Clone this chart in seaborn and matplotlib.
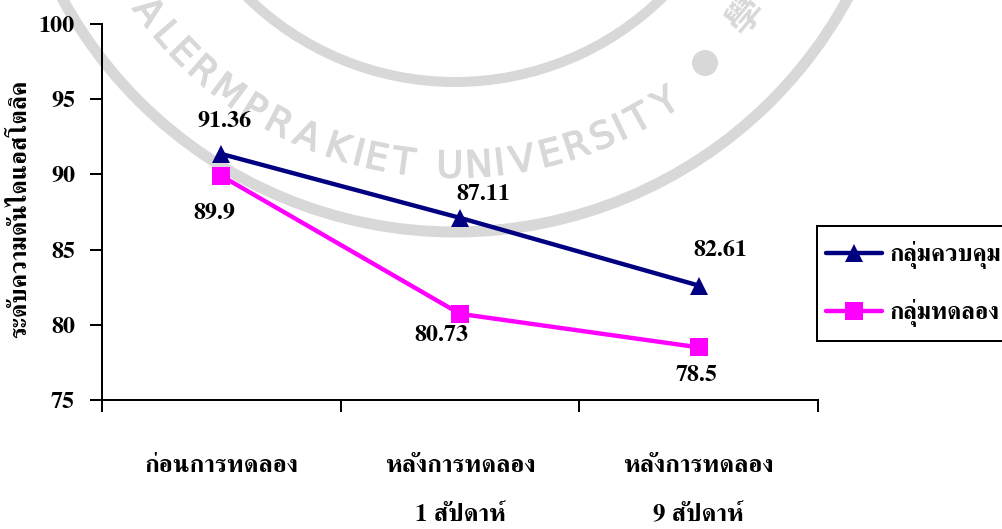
import numpy as np
import pandas as pd
import seaborn as sns
import matplotlib
matplotlib.use("Agg")
import matplotlib.pyplot as plt
import matplotlib.patheffects as pe
from matplotlib.font_manager import FontProperties
from matplotlib.patches import Circle, Rectangle
from matplotlib.textpath import TextPath

phases = ["ก่อนการทดลอง", "หลังการทดลอง\n1 สัปดาห์", "หลังการทดลอง\n9 สัปดาห์"]
control = [91.36, 87.11, 82.61]
treatment = [89.9, 80.73, 78.5]
group_names = ["กลุ่มควบคุม", "กลุ่มทดลอง"]
y_title = "ระดับความดันไดแอสโตลิค"
seal_text = "ALERMPRAKIET UNIVERSITY"

sns.set_theme(style="white")
plt.rcParams["font.family"] = ["FreeSerif", "Liberation Serif", "DejaVu Sans"]
plt.rcParams["font.weight"] = "bold"

W, H = 1003, 529
px = 72 / 100
fig = plt.figure(figsize=(W / 100, H / 100), dpi=100, facecolor="white")

# University seal printed faintly behind the plot
seal = fig.add_axes([0, 0, 1, 1], zorder=0)
seal.set_xlim(0, W)
seal.set_ylim(H, 0)
seal.axis("off")
gray = "#d8d8d8"
cx, cy = 455, -215
seal.add_patch(Circle((cx, cy), 447, fill=False, ec=gray, lw=11 * px))
seal.add_patch(Circle((cx, cy), 297, fill=False, ec=gray, lw=10 * px))
seal.add_patch(Circle((705, 63), 13, fc=gray, ec="none"))

seal_font = FontProperties(family="DejaVu Sans", size=37)
widths = [TextPath((0, 0), c, prop=seal_font).get_extents().width if c != " " else 12
          for c in seal_text]
start, end = np.radians(-53.5), np.radians(33.6)
radius = 382
span = radius * (end - start)
gap = (span - sum(widths) + (widths[0] + widths[-1]) / 2) / (len(seal_text) - 1)
pos = 0.0
for i, (c, w) in enumerate(zip(seal_text, widths)):
    if i:
        pos += (widths[i - 1] + w) / 2 + gap
    t = start + pos / radius
    seal.text(cx + radius * np.sin(t), cy + radius * np.cos(t), c, color=gray,
              fontsize=37 * px, family="DejaVu Sans", weight="normal",
              rotation=np.degrees(t), rotation_mode="anchor", ha="center", va="center",
              path_effects=[pe.withStroke(linewidth=1.0, foreground=gray)])
seal.text(746, 16, "學", color=gray, fontsize=36 * px, family="Noto Sans CJK TC",
          weight="bold", rotation=50, ha="center", va="center")

# Main plot
ax = fig.add_axes([102 / W, (H - 400) / H, 716 / W, 376 / H], zorder=1)
ax.patch.set_visible(False)

df = pd.DataFrame({
    "phase": phases * 2,
    "score": control + treatment,
    "group": [group_names[0]] * 3 + [group_names[1]] * 3,
})
sns.lineplot(
    data=df, x="phase", y="score", hue="group", style="group", sort=False, ax=ax,
    palette={group_names[0]: "#000080", group_names[1]: "#FF00FF"},
    markers={group_names[0]: "^", group_names[1]: "s"},
    dashes=False, lw=4.4 * px, markersize=18 * px, markeredgewidth=0,
    errorbar=None,
)

ax.set_xlim(-0.5, 2.5)
ax.set_ylim(75, 100)
ax.set_yticks(range(75, 101, 5))
ax.set_xticks(np.arange(-0.5, 3, 1))
ax.set_xticklabels([])
ax.set_xticks(range(3), labels=phases, minor=True)
ax.set_xlabel("")
ax.set_ylabel("")
for side in ("top", "right"):
    ax.spines[side].set_visible(False)
for side in ("left", "bottom"):
    ax.spines[side].set_linewidth(2 * px)
    ax.spines[side].set_color("black")
ax.tick_params(axis="both", which="major", length=12 * px, width=2 * px, color="black",
               left=True, bottom=True)
ax.tick_params(axis="y", labelsize=24 * px, pad=15 * px, labelcolor="black")
ax.tick_params(axis="x", which="minor", length=0, pad=55 * px, labelsize=25 * px,
               labelcolor="black")
for lab in ax.get_xticklabels(minor=True):
    lab.set_linespacing(2.6)
    lab.set_va("top")

fig.text(20 / W, 1 - 209 / H, y_title, rotation=90, ha="center", va="center",
         fontsize=24.5 * px, color="black")

# Value labels, offset in pixels from each point
offsets = [[(3, 33), (23, 23), (22, 35)], [(-7, -38), (-19, -22), (-2, -28)]]
for vals, offs in zip((control, treatment), offsets):
    for i, (v, (dx, dy)) in enumerate(zip(vals, offs)):
        ax.annotate(str(v), (i, v), xytext=(dx * px, dy * px), textcoords="offset points",
                    ha="center", va="center", fontsize=24 * px, color="black")

# Legend box runs past the right edge of the figure
seal.add_patch(Rectangle((817, 226), 220, 115, fc="white", ec="black", lw=2 * px, zorder=5))
handles, labels = ax.get_legend_handles_labels()
leg = ax.legend(
    handles, labels, loc="upper left",
    bbox_to_anchor=(826 / W, 1 - 241 / H), bbox_transform=fig.transFigure,
    borderaxespad=0, borderpad=0, frameon=False,
    fontsize=24 * px, handlelength=2.35, handletextpad=0.28, labelspacing=1.26,
)
for txt in leg.get_texts():
    txt.set_color("black")

fig.savefig("out.png", dpi=100)
